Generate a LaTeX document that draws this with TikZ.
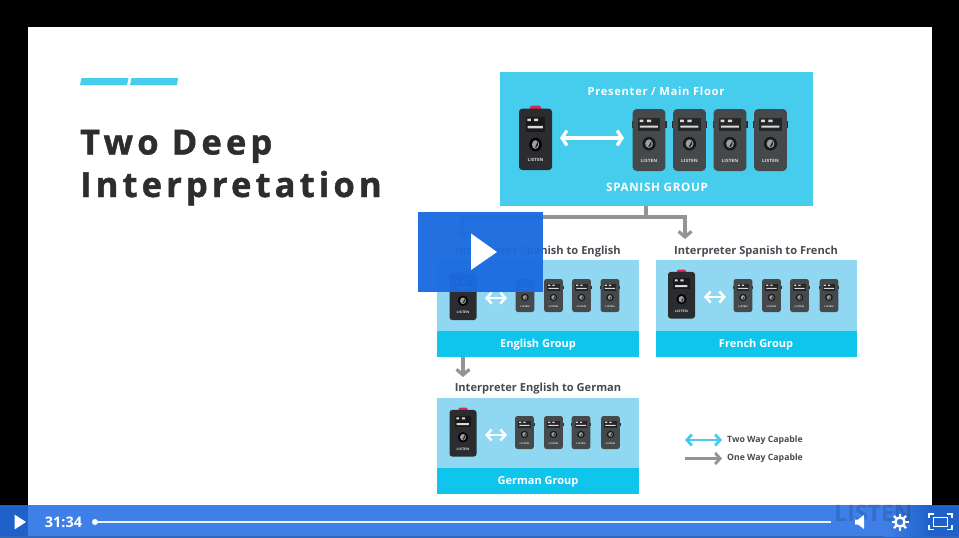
\documentclass[tikz,border=0pt]{standalone}
\usepackage{fontspec}
\setmainfont{Open Sans}
\newfontfamily\titlefont[LetterSpace=12,BoldFeatures={FakeBold=1.2}]{Open Sans}
\newfontfamily\spacedfont[LetterSpace=6]{Open Sans}
\usetikzlibrary{arrows.meta,calc}
\definecolor{skyA}{HTML}{46CDEE}
\definecolor{paleA}{HTML}{90D7F2}
\definecolor{bandA}{HTML}{10C5EC}
\definecolor{greyA}{HTML}{949494}
\definecolor{inkA}{HTML}{474B52}
\definecolor{titleA}{HTML}{2D2D2D}
\definecolor{barA}{HTML}{3F80E8}
\definecolor{barB}{HTML}{1E62C9}
\definecolor{btnA}{HTML}{1B6BE0}
\definecolor{devA}{HTML}{45494B}
\definecolor{devB}{HTML}{2A2C2F}
\definecolor{redA}{HTML}{E0264F}
\newcounter{devno}
\tikzset{
  panel/.style={fill=#1,draw=none,inner sep=0pt,outer sep=0pt,anchor=north west},
  grouplabel/.style={text=white,font=\fontsize{11}{12}\bfseries,inner sep=0pt},
  toplabel/.style={text=white,font=\fontsize{#1}{13}\spacedfont\bfseries,inner sep=0pt},
  interplabel/.style={text=inkA,font=\fontsize{11.1}{12}\bfseries,inner sep=0pt},
  legendlabel/.style={text=inkA,font=\fontsize{8.7}{10}\bfseries,inner sep=0pt,anchor=west},
  titletext/.style={anchor=base west,inner sep=0pt,text=titleA,font=\fontsize{34.5}{40}\titlefont\bfseries},
  greyflow/.style={draw=greyA,line width=3.4pt},
  greyhead/.style={greyflow,-{Straight Barb[length=5.5pt,width=13pt,line width=3.2pt]}},
  whitetwo/.style={draw=white,line width=#1*.22pt,{Straight Barb[length=5pt,width=#1*1pt,line width=#1*.22pt]}-{Straight Barb[length=5pt,width=#1*1pt,line width=#1*.22pt]}},
  legendtwo/.style={draw=skyA,line width=2.8pt,{Straight Barb[length=5pt,width=11pt,line width=2.8pt]}-{Straight Barb[length=5pt,width=11pt,line width=2.8pt]}},
  legendone/.style={draw=greyA,line width=2.8pt,-{Straight Barb[length=5pt,width=11pt,line width=2.8pt]}},
  devname/.style={text=white!85!black,font=\fontsize{14}{14}\bfseries,inner sep=0pt,transform shape,yscale=.5},
}
\newcommand\listenerdev[4]{%
  \begin{scope}[shift={(#1,#2)},xscale=#3/100,yscale=#4/100]
    \fill[devB] (-50,-30) rectangle (50,-20);
    \fill[devA,rounded corners={#3*.12pt}] (-47,-50) rectangle (47,50);
    \fill[black!85] (-32,-36) rectangle (32,-15);
    \fill[white!85!black] (-27,-33) rectangle (-16,-29) (-6,-33) rectangle (6,-29) (-26,-23) rectangle (25,-20);
    \fill[black!90] (0,6) ellipse [x radius=19,y radius=11];
    \fill[white!62!black] (0,6) ellipse [x radius=11,y radius=7];
    \fill[black!85] (-2,11) -- (7,1) -- (7,7) -- (2,11) -- cycle;
    \stepcounter{devno}
    \node[devname] (dev\thedevno) at (0,33) {LISTEN};
  \end{scope}}
\newcommand\interpdev[4]{%
  \begin{scope}[shift={(#1,#2)},xscale=#3/100,yscale=#4/100]
    \fill[redA,rounded corners={#3*.05pt}] (-17,-54) rectangle (17,-46);
    \fill[devB,rounded corners={#3*.1pt}] (-50,-49) rectangle (50,50);
    \fill[black!90] (-30,-36) rectangle (30,-12);
    \fill[white!85!black] (-25,-33) rectangle (-14,-29) (-4,-33) rectangle (8,-29) (-24,-21) rectangle (22,-17);
    \fill[black] (0,9) ellipse [x radius=19,y radius=11];
    \fill[white!62!black] (0,9) ellipse [x radius=11,y radius=7];
    \fill[black!85] (-2,14) -- (7,4) -- (7,10) -- (2,14) -- cycle;
    \stepcounter{devno}
    \node[devname] (dev\thedevno) at (0,34) {LISTEN};
  \end{scope}}
\begin{document}
\begin{tikzpicture}[x=1pt,y=-1pt]
\useasboundingbox (0,0) rectangle (959,538);
\fill[black] (0,0) rectangle (959,538);
\fill[white] (28,27) rectangle (932,505);
% accent bars
\fill[skyA] (81.5,78) -- (128.5,78) -- (127,85) -- (80,85) -- cycle;
\fill[skyA] (131.5,78) -- (178,78) -- (177,85) -- (130,85) -- cycle;
% title
\node[titletext] (title1) at (80,154.5) {Two Deep};
\node[titletext] (title2) at (80,197) {Interpretation};
% top panel
\node[panel=skyA,minimum width=313pt,minimum height=134pt] (main) at (500,72) {};
\node[toplabel=11.2] (mainlabel) at (656,91) {Presenter / Main Floor};
\node[toplabel=11.6] (spanish) at (657,187) {SPANISH GROUP};
\interpdev{535.5}{139}{33}{62}
\listenerdev{649}{140}{35}{62}
\listenerdev{689.5}{140}{35}{62}
\listenerdev{730}{140}{35}{62}
\listenerdev{770.5}{140}{35}{62}
\coordinate (twoL) at (560,138);
\coordinate (twoR) at (624,138);
\draw[whitetwo=15] (twoL) -- (twoR);
% connectors
\coordinate (junction) at (646,217);
\coordinate (stemtop) at (646,206);
\coordinate (dropE) at (462,239);
\coordinate (dropF) at (685,239);
\draw[greyflow] (stemtop) -- (junction);
\draw[greyhead] (junction) -| (dropF);
\draw[greyhead] (junction) -| (dropE);
% labels
\node[interplabel] (lblE) at (538,251.5) {Interpreter Spanish to English};
\node[interplabel] (lblF) at (756,251.5) {Interpreter Spanish to French};
\node[interplabel] (lblG) at (538,389) {Interpreter English to German};
% English
\node[panel=paleA,minimum width=202pt,minimum height=97pt] (engp) at (437,260) {};
\node[panel=bandA,minimum width=202pt,minimum height=26pt] (engb) at (437,331) {};
\node[grouplabel] (engt) at (538,345) {English Group};
\interpdev{463}{296.5}{27}{47}
\listenerdev{525}{295.5}{20}{33}
\listenerdev{553.5}{295.5}{20}{33}
\listenerdev{581.5}{295.5}{20}{33}
\listenerdev{610}{295.5}{20}{33}
\coordinate (eL) at (485,298);
\coordinate (eR) at (507,298);
\draw[whitetwo=11] (eL) -- (eR);
% French
\node[panel=paleA,minimum width=201pt,minimum height=97pt] (frp) at (656,260) {};
\node[panel=bandA,minimum width=201pt,minimum height=26pt] (frb) at (656,331) {};
\node[grouplabel] (frt) at (756,345) {French Group};
\interpdev{681.5}{295}{27}{47}
\listenerdev{743}{295.5}{20}{33}
\listenerdev{771.5}{295.5}{20}{33}
\listenerdev{799.5}{295.5}{20}{33}
\listenerdev{829}{295.5}{20}{33}
\coordinate (fL) at (704,297);
\coordinate (fR) at (726,297);
\draw[whitetwo=11] (fL) -- (fR);
% German
\node[panel=paleA,minimum width=202pt,minimum height=96pt] (gerp) at (437,398) {};
\node[panel=bandA,minimum width=202pt,minimum height=26pt] (gerb) at (437,468) {};
\node[grouplabel] (gert) at (538,482) {German Group};
\interpdev{463}{433}{27}{47}
\listenerdev{524.5}{432.5}{20}{33}
\listenerdev{553.5}{432.5}{20}{33}
\listenerdev{581}{432.5}{20}{33}
\listenerdev{610.5}{432.5}{20}{33}
\coordinate (gL) at (485,435);
\coordinate (gR) at (507,435);
\draw[whitetwo=11] (gL) -- (gR);
% English to German arrow
\coordinate (egtop) at (463,357);
\coordinate (egend) at (463,377);
\draw[greyhead] (egtop) -- (egend);
% legend
\coordinate (l1a) at (685,440);
\coordinate (l1b) at (722,440);
\coordinate (l2a) at (685,458.5);
\coordinate (l2b) at (722,458.5);
\draw[legendtwo] (l1a) -- (l1b);
\draw[legendone] (l2a) -- (l2b);
\node[legendlabel] (leg1) at (727,440.5) {Two Way Capable};
\node[legendlabel] (leg2) at (727,458.5) {One Way Capable};
% big play button
\fill[btnA,opacity=.96] (418,212) rectangle (543,292);
\fill[white] (471,233.5) -- (497,252) -- (471,270) -- cycle;
% control bar
\fill[barA] (0,505) rectangle (959,536);
\fill[black!20!barA] (0,536) rectangle (959,538);
\fill[barB] (0,505) rectangle (28,536);
\shade[left color=barA,right color=barB] (885,505) rectangle (930,536);
\fill[barB] (930,505) rectangle (959,536);
\node[inner sep=0pt,text=black,opacity=.14,font=\fontsize{23}{23}\bfseries] (ghost) at (873.5,513) {LISTEN};
\fill[white] (14.5,514.5) -- (26,522) -- (14.5,529.5) -- cycle;
\node[inner sep=0pt,text=white,font=\fontsize{14.5}{15}\bfseries] (time) at (63.5,522) {31:34};
\fill[white!90!barA] (96,521) rectangle (831,523);
\fill[white] (95,522) circle (3pt);
% speaker
\fill[white] (855,519.5) -- (858,519.5) -- (864,515) -- (864,529) -- (858,524.5) -- (855,524.5) -- cycle;
% gear
\draw[white,line width=2.4pt] (900,522) circle (4.6pt);
\foreach \a in {0,45,...,315}
  \draw[white,line width=2.4pt] ($(900,522)+(\a:5.5)$) -- ($(900,522)+(\a:8.5)$);
% fullscreen
\draw[white,line width=1.8pt] (929,518) -- (929,514) -- (934,514);
\draw[white,line width=1.8pt] (947,514) -- (952,514) -- (952,518);
\draw[white,line width=1.8pt] (952,525) -- (952,529.5) -- (947,529.5);
\draw[white,line width=1.8pt] (934,529.5) -- (929,529.5) -- (929,525);
\draw[white,line width=1.8pt] (933.5,517.5) rectangle (947.5,526.5);
\end{tikzpicture}
\end{document}
